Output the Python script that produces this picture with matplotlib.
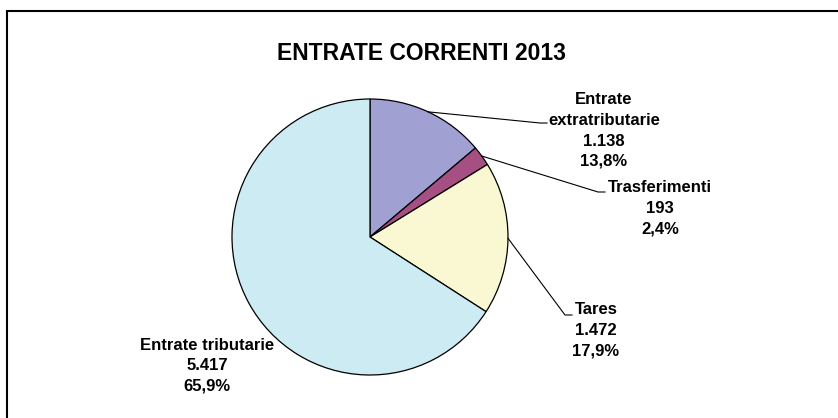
import matplotlib.pyplot as plt
import numpy as np
from matplotlib.patches import Rectangle

plt.rcParams["font.family"] = ["Liberation Sans", "DejaVu Sans"]

# Data
categories = ["Entrate\nextratributarie", "Trasferimenti", "Tares", "Entrate tributarie"]
values = [1138, 193, 1472, 5417]
value_labels = ["1.138", "193", "1.472", "5.417"]
pct_labels = ["13,8%", "2,4%", "17,9%", "65,9%"]
colors = ["#a0a0d2", "#a64f82", "#faf7d3", "#cdebf3"]

W, H = 838, 418
fig = plt.figure(figsize=(W / 100, H / 100), dpi=100)
ax = fig.add_axes([0, 0, 1, 1])

# pie geometry in pixels (y from top)
cx, cy, R = 370, 237, 138

wedges, _ = ax.pie(values, colors=colors, startangle=90, counterclock=False,
                   center=(cx, H - cy), radius=R, frame=True,
                   wedgeprops=dict(edgecolor="black", linewidth=0.9))
ax.set_xlim(0, W)
ax.set_ylim(0, H)
ax.set_aspect("equal")
ax.axis("off")

# label text anchor (center of first line) and leader line end (px, y from top)
text_pos = [(604, 100), (660, 188), (596, 310), (207, 345)]
leader_end = [(540, 123), (598, 192), (565, 315), None]

fracs = np.array(values) / sum(values)
cum = np.cumsum(fracs) - fracs / 2
for i, cat in enumerate(categories):
    lines = cat.split("\n") + [value_labels[i], pct_labels[i]]
    tx, ty = text_pos[i]
    for k, ln in enumerate(lines):
        ax.text(tx, H - (ty + k * 20.5), ln, ha="center", va="center",
                fontsize=12, fontweight="bold", color="black")
    if leader_end[i] is not None:
        ang = np.deg2rad(cum[i] * 360)
        sx = cx + R * np.sin(ang)
        sy = cy - R * np.cos(ang)
        ex, ey = leader_end[i]
        ax.plot([sx, ex, ex + 7], [H - sy, H - ey, H - ey], color="black", lw=0.8)

ax.text(421, H - 53, "ENTRATE CORRENTI 2013", ha="center", va="center",
        fontsize=16.5, fontweight="bold")

# chart frame
ax.add_patch(Rectangle((7, -20), 900, H - 11 + 20, fill=False,
                       edgecolor="black", linewidth=1.5, clip_on=False))

fig.savefig("out.png", dpi=100)
